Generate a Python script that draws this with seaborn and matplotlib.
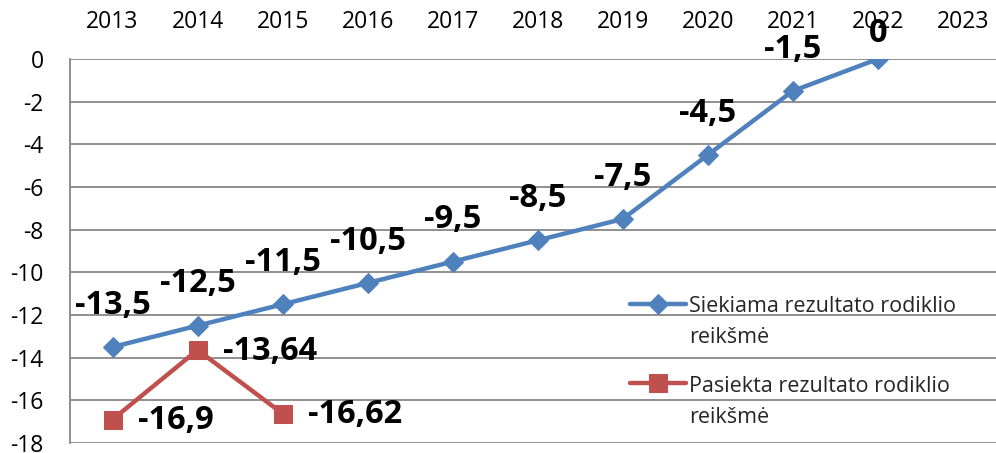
import pandas as pd
import seaborn as sns
import matplotlib.pyplot as plt
from matplotlib.offsetbox import HPacker

# Chart data
years = [2013, 2014, 2015, 2016, 2017, 2018, 2019, 2020, 2021, 2022, 2023]
target_years = [2013, 2014, 2015, 2016, 2017, 2018, 2019, 2020, 2021, 2022]
target_values = [-13.5, -12.5, -11.5, -10.5, -9.5, -8.5, -7.5, -4.5, -1.5, 0]
actual_years = [2013, 2014, 2015]
actual_values = [-16.9, -13.64, -16.62]
target_name = 'Siekiama rezultato rodiklio\nreikšmė'
actual_name = 'Pasiekta rezultato rodiklio\nreikšmė'

df_target = pd.DataFrame({'year': target_years, 'value': target_values})
df_actual = pd.DataFrame({'year': actual_years, 'value': actual_values})

sns.set_style('white')
plt.rcParams['font.family'] = ['Open Sans', 'DejaVu Sans']
plt.rcParams['axes.unicode_minus'] = False

blue = '#4F81BD'
red = '#C0504D'

fig = plt.figure(figsize=(9.96, 4.53), dpi=100)
ax = fig.add_axes([70 / 996, 1 - 443 / 453, 1 - 70 / 996, (443 - 59) / 453])

sns.lineplot(data=df_target, x='year', y='value', ax=ax, color=blue, linewidth=3.2,
             marker='D', markersize=10, markeredgecolor=blue, label=target_name)
sns.lineplot(data=df_actual, x='year', y='value', ax=ax, color=red, linewidth=3.2,
             marker='s', markersize=13, markeredgecolor=red, label=actual_name)

# Format numbers with a decimal comma, like the original
def fmt(v):
    return f'{v:g}'.replace('.', ',')

for x, y in zip(target_years, target_values):
    dy = 18 if y == 0 else 30
    ax.annotate(fmt(y), (x, y), textcoords='offset points', xytext=(0, dy),
                ha='center', va='center', fontsize=23.5, fontweight='bold', color='black',
                annotation_clip=False)

for x, y in zip(actual_years, actual_values):
    ax.annotate(fmt(y), (x, y), textcoords='offset points', xytext=(18, -1),
                ha='left', va='center', fontsize=23.5, fontweight='bold', color='black')

ax.set_xlim(2012.5, 2023.39)
ax.set_ylim(-18, 0)
ax.set_xticks(years)
ax.set_xticklabels([str(y) for y in years])
ax.set_yticks(range(-18, 1, 2))
ax.xaxis.tick_top()
ax.tick_params(axis='both', length=0, labelsize=16.5, colors='black')
ax.tick_params(axis='x', pad=18)
ax.tick_params(axis='y', pad=19)
ax.set_xlabel('')
ax.set_ylabel('')

ax.yaxis.grid(True, color='#878787', linewidth=1.3)
ax.xaxis.grid(False)
for side in ['top', 'right', 'bottom']:
    ax.spines[side].set_visible(False)
ax.spines['left'].set_color('#878787')
ax.spines['left'].set_linewidth(1.3)

leg = ax.legend(loc='upper left', bbox_to_anchor=(630 / 996, 1 - 296 / 453),
                bbox_transform=fig.transFigure, frameon=False, fontsize=15.5,
                handlelength=2.6, handletextpad=0.15, labelspacing=1.3, numpoints=1,
                borderaxespad=0, borderpad=0)
for t in leg.get_texts():
    t.set_linespacing(1.62)
# marker sits on the first text line, as in the original
for hp in leg.findobj(HPacker):
    hp.align = 'top'

fig.savefig('out.png', dpi=100)
